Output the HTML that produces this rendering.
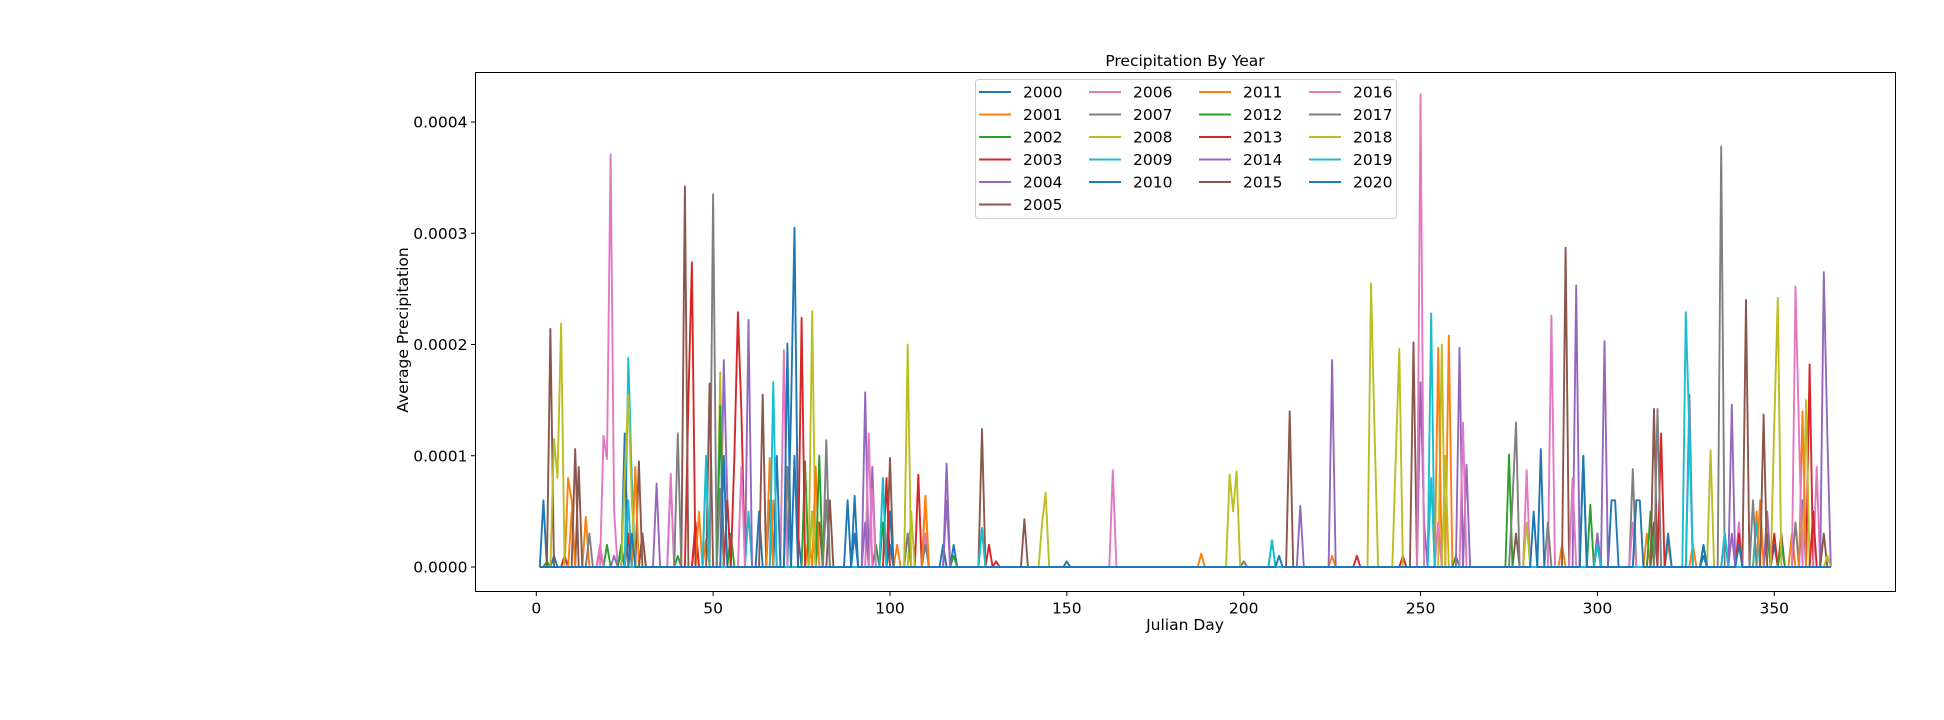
<!DOCTYPE html>
<html><head><meta charset="utf-8"><style>
html,body{margin:0;padding:0;background:#fff;}
svg{display:block;font-family:"DejaVu Sans","Liberation Sans",sans-serif;}
</style></head><body>
<svg id="chart" width="1944" height="720" viewBox="0 0 1944 720">
<rect x="0" y="0" width="1944" height="720" fill="#fff"/>
<text x="1185" y="66" text-anchor="middle" font-size="15.5" fill="#000">Precipitation By Year</text>
<g id="plot"></g>
<g id="axes"></g>
<text x="1185" y="630" text-anchor="middle" font-size="15.5">Julian Day</text>
<text transform="translate(408,330) rotate(-90)" text-anchor="middle" font-size="15.5">Average Precipitation</text>
<g id="legend"></g>
</svg>
<script>
const years=[2000,2001,2002,2003,2004,2005,2006,2007,2008,2009,2010,2011,2012,2013,2014,2015,2016,2017,2018,2019,2020];
const colors=["#1f77b4","#ff7f0e","#2ca02c","#d62728","#9467bd","#8c564b","#e377c2","#7f7f7f","#bcbd22","#17becf"];
const xTicks=[0,50,100,150,200,250,300,350];
const yTicks=[0,0.0001,0.0002,0.0003,0.0004];
const yTickLabels=["0.0000","0.0001","0.0002","0.0003","0.0004"];
// peak days and values (x1e-4) per year; other days are zero
const peakDays=[
[2,5,24,45,63,72,73,74,90,100,118,150,304,305,330,350],
[9,10,14,30,48,67,77,102,110,188,225,258,290,320,345,355],
[3,20,40,55,78,96,118,200,260,300,330,348],
[8,18,45,56,57,58,108,130,245,316,350,360],
[34,53,54,93,95,116,225,250,251,302,326,338,348,358],
[4,12,29,64,80,100,138,248,277,342,352],
[19,20,21,22,70,94,110,250,287,300,340,362],
[15,50,66,82,110,200,286,310,336,356],
[5,6,7,52,78,106,196,197,198,236,237,256,332,359],
[26,27,48,60,98,126,208,253,325,326,345],
[25,52,68,88,100,115,284,296,320,330],
[10,28,46,66,79,110,255,314,327,346,358],
[24,52,76,80,98,105,275,298,315,352],
[26,43,44,54,75,99,128,232,318,340,361],
[22,38,60,93,116,216,261,263,294,300,338,364,365],
[11,30,42,49,83,126,213,291,316,347,364],
[18,38,58,95,163,255,262,280,293,310,356,357],
[40,52,71,82,105,276,277,317,335,344],
[25,26,27,78,105,143,144,243,244,257,280,350,351,365],
[26,48,67,98,126,208,253,300,326,336],
[27,53,71,73,90,210,282,296,311,312,340]];
const peakVals=[
[0.6,0.1,0.15,0.3,0.5,1.4,3.05,0.3,0.64,0.2,0.2,0.05,0.6,0.6,0.1,0.2],
[0.8,0.6,0.45,0.3,0.25,0.6,0.3,0.2,0.64,0.12,0.1,2.08,0.2,0.2,0.5,0.3],
[0.05,0.2,0.1,0.3,0.5,0.2,0.1,0.05,0.1,0.3,0.2,0.3],
[0.1,0.15,0.4,1.0,2.29,1.4,0.83,0.05,0.1,0.4,0.3,1.82],
[0.75,1.86,0.6,1.57,0.9,0.93,1.86,1.66,0.4,2.03,1.55,0.3,0.5,0.6],
[2.14,0.9,0.95,1.55,0.4,0.98,0.43,2.02,0.3,2.4,0.3],
[1.18,0.97,3.71,0.5,1.95,1.2,0.3,4.25,2.26,0.2,0.4,0.9],
[0.3,3.35,0.6,1.14,0.2,0.05,0.4,0.88,0.3,0.4],
[1.15,0.8,2.19,1.75,2.3,0.5,0.83,0.5,0.86,2.55,1.2,2.0,1.05,1.5],
[1.88,0.8,0.9,0.5,0.8,0.35,0.24,2.28,2.29,1.2,0.4],
[1.2,1.36,1.0,0.6,0.5,0.2,1.06,1.0,0.3,0.2],
[0.5,0.9,0.5,0.98,0.9,0.64,1.97,0.3,0.2,0.6,1.4],
[0.2,1.45,0.95,1.0,0.4,0.3,1.01,0.56,0.5,0.2],
[0.3,1.5,2.74,0.6,2.24,0.8,0.2,0.1,1.2,0.3,0.5],
[0.1,0.8,2.22,0.4,0.6,0.55,1.97,0.92,2.53,0.3,1.46,2.65,1.2],
[1.06,0.3,3.42,1.65,0.6,1.24,1.4,2.87,1.42,1.37,0.3],
[0.2,0.84,0.9,0.7,0.87,0.4,1.3,0.87,0.8,0.4,2.52,1.2],
[1.2,0.7,0.9,0.6,0.3,0.6,1.3,1.42,3.78,0.6],
[0.8,1.55,0.6,0.5,2.0,0.4,0.67,1.0,1.96,1.0,0.4,1.3,2.42,0.1],
[0.6,1.0,1.66,0.8,0.35,0.24,0.8,0.2,1.3,0.3],
[0.3,1.0,2.01,1.0,0.3,0.1,0.5,1.0,0.6,0.6,0.2]];

const NS="http://www.w3.org/2000/svg";
const AX={l:475.5,r:1895.5,t:72.5,b:591.5};
function xs(d){return 536.3+d*3.537;}
function ys(v){return 567-v*1112500;}
const plot=document.getElementById('plot');
const axes=document.getElementById('axes');
const legend=document.getElementById('legend');
function mk(tag,attrs,parent){const e=document.createElementNS(NS,tag);for(const k in attrs)e.setAttribute(k,attrs[k]);parent.appendChild(e);return e;}

years.forEach((y,i)=>{
  const vals=new Array(367).fill(0);
  peakDays[i].forEach((d,j)=>{vals[d]=peakVals[i][j]*1e-4;});
  let pts=[];
  for(let d=1;d<=366;d++)pts.push(xs(d).toFixed(1)+","+ys(vals[d]).toFixed(1));
  const pl=mk('polyline',{points:pts.join(' '),fill:'none',stroke:colors[i%10],'stroke-width':1.9,'stroke-linejoin':'round'},plot);
  
  
});

const frame=mk('rect',{x:AX.l,y:AX.t,width:AX.r-AX.l,height:AX.b-AX.t,fill:'none',stroke:'#000','stroke-width':1},axes);


xTicks.forEach(t=>{
  const x=xs(t);
  mk('line',{x1:x,x2:x,y1:AX.b,y2:AX.b+4.5,stroke:'#000','stroke-width':1},axes);
  const tx=mk('text',{x:x,y:AX.b+22,'text-anchor':'middle','font-size':15.5},axes);
  tx.textContent=t;
  
  
});
yTicks.forEach((t,i)=>{
  const y=ys(t);
  mk('line',{x1:AX.l-4.5,x2:AX.l,y1:y,y2:y,stroke:'#000','stroke-width':1},axes);
  const tx=mk('text',{x:AX.l-8,y:y+5.5,'text-anchor':'end','font-size':15.5},axes);
  tx.textContent=yTickLabels[i];
  
  
});

const lb=mk('rect',{x:975.5,y:79.5,width:421,height:139,rx:3,fill:'#fff','fill-opacity':0.8,stroke:'#ccc','stroke-width':1},legend);


const colX=[979,1089,1199,1309];
const perCol=[6,5,5,5];
let idx=0;
perCol.forEach((n,c)=>{
  for(let r=0;r<n;r++){
    const i=idx++;
    const y=92+r*22.5;
    const g=mk('g',{},legend);
    
    
    mk('line',{x1:colX[c],x2:colX[c]+32,y1:y,y2:y,stroke:colors[i%10],'stroke-width':1.9},g);
    const t=mk('text',{x:colX[c]+44,y:y+5.5,'font-size':15.5},g);
    t.textContent=years[i];
  }
});
</script>
</body></html>
